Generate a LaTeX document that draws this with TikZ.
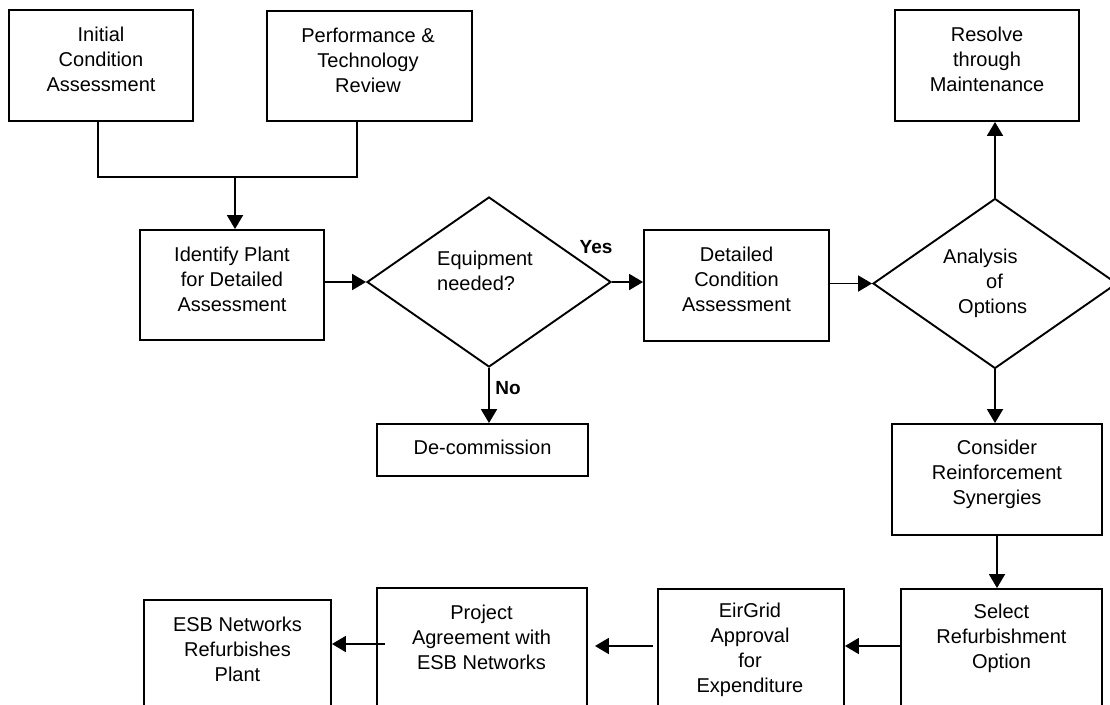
\documentclass[tikz,border=0pt]{standalone}
\usepackage{fontspec}
\setmainfont{Liberation Sans}
\usetikzlibrary{shapes.geometric,arrows.meta,calc}
\begin{document}
\begin{tikzpicture}[x=1pt,y=-1pt,
  box/.style={draw, line width=1.9pt, inner sep=0pt, rectangle},
  txt/.style={align=center, font=\fontsize{20}{25}\selectfont, inner sep=0pt},
  dtxt/.style={align=left, font=\fontsize{20}{25}\selectfont, inner sep=0pt},
  dia/.style={draw, diamond, line width=1.9pt, inner sep=0pt, minimum width=244pt, minimum height=170pt},
  arr/.style={line width=1.9pt, -{Triangle[length=14pt,width=16pt]}},
  conn/.style={line width=1.9pt},
  lbl/.style={font=\fontsize{19}{23}\selectfont\bfseries, inner sep=0pt}]
\clip (0,0) rectangle (1110,704);
\fill[white] (0,0) rectangle (1110,704);

% boxes
\node[box, minimum width=184pt, minimum height=111pt] (b1) at (101,65.5) {};
\node[box, minimum width=205pt, minimum height=110pt] (b2) at (369.5,66) {};
\node[box, minimum width=184pt, minimum height=110pt] (b3) at (232,285) {};
\node[dia] (d1) at (489,282) {};
\node[box, minimum width=185pt, minimum height=111pt] (b4) at (736.5,285.5) {};
\node[dia] (d2) at (995,283.5) {};
\node[box, minimum width=184pt, minimum height=111pt] (b5) at (987,65.5) {};
\node[box, minimum width=211pt, minimum height=52pt] (b6) at (482.5,450) {};
\node[box, minimum width=210pt, minimum height=111pt] (b7) at (997,479.5) {};
\node[box, minimum width=201pt, minimum height=126pt] (b8) at (1001.5,652) {};
\node[box, minimum width=186pt, minimum height=126pt] (b9) at (751,652) {};
\node[box, minimum width=210pt, minimum height=127pt] (b10) at (482,651.5) {};
\node[box, minimum width=187pt, minimum height=115pt] (b11) at (237.5,657.5) {};

% texts
\node[txt] (t1) at (101,59) {Initial\\Condition\\Assessment};
\node[txt] (t2) at (368,60) {Performance \&\\Technology\\Review};
\node[txt] (t3) at (232,279) {Identify Plant\\for Detailed\\Assessment};
\node[dtxt, anchor=west] (t4) at (437,270.5) {Equipment\\needed?};
\node[txt] (t5) at (736.5,279) {Detailed\\Condition\\Assessment};
\node[dtxt, anchor=west] (t6) at (943,283) {Analysis\\\hspace*{43pt}of\\\hspace*{15pt}Options};
\node[txt] (t7) at (987,59) {Resolve\\through\\Maintenance};
\node[txt] (t8) at (482.5,447) {De-commission};
\node[txt] (t9) at (997,474) {Consider\\Reinforcement\\Synergies};
\node[txt] (t10) at (1001.5,638) {Select\\Refurbishment\\Option};
\node[txt] (t11) at (750,650) {EirGrid\\Approval\\for\\Expenditure};
\node[txt] (t12) at (481.5,637) {Project\\Agreement with\\ESB Networks};
\node[txt] (t13) at (237.5,649) {ESB Networks\\Refurbishes\\Plant};

% labels
\node[lbl] (yes) at (596,247) {Yes};
\node[lbl] (no) at (508,388) {No};

% connectors
\coordinate (j) at (235,177);
\coordinate (s1) at (98,121);
\coordinate (s2) at (357,121);
\draw[conn] (s1) |- (j) -| (s2);
\draw[arr] (j) -- (j |- b3.north);
\draw[arr] (d1.west -| b3.east) -- (d1.west);
\draw[arr] (d1.east) -- (d1.east -| b4.west);
\draw[arr] (d1.south) -- (d1.south |- b6.north);
\draw[arr] (d2.west -| b4.east) -- (d2.west);
\draw[arr] (d2.north) -- (d2.north |- b5.south);
\draw[arr] (d2.south) -- (d2.south |- b7.north);
\draw[arr] (b7.south) -- (b7.south |- b8.north);
\coordinate (a1) at (901,646);
\draw[arr] (a1) -- (a1 -| b9.east);
\coordinate (a2) at (653,646);
\draw[arr] (a2) -- ([xshift=7pt]a2 -| b10.east);
\coordinate (a3) at (385,644);
\draw[arr] (a3) -- (a3 -| b11.east);
\end{tikzpicture}
\end{document}
